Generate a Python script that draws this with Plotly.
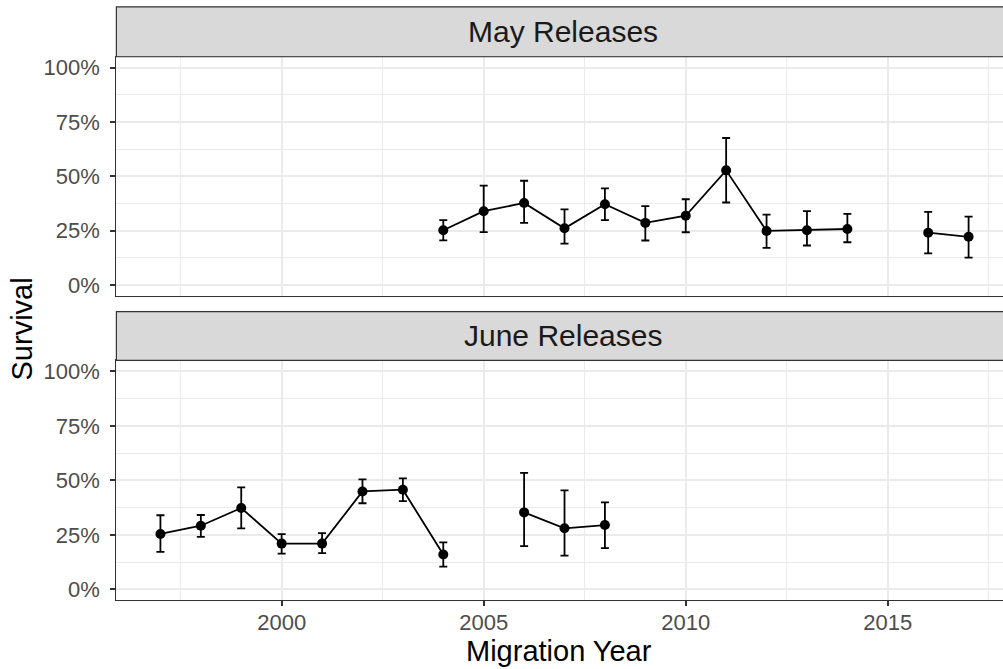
import plotly.graph_objects as go

# ---------------- data ----------------
may_years = [2004, 2005, 2006, 2007, 2008, 2009, 2010, 2011, 2012, 2013, 2014, 2015, 2016, 2017]
may_surv  = [0.251, 0.339, 0.377, 0.260, 0.371, 0.285, 0.318, 0.527, 0.248, 0.251, 0.257, None, 0.240, 0.221]
may_lo    = [0.205, 0.243, 0.285, 0.190, 0.298, 0.204, 0.242, 0.379, 0.170, 0.181, 0.196, None, 0.145, 0.125]
may_hi    = [0.298, 0.457, 0.479, 0.347, 0.444, 0.362, 0.394, 0.676, 0.323, 0.339, 0.327, None, 0.336, 0.314]

june_years = [1997, 1998, 1999, 2000, 2001, 2002, 2003, 2004, 2005, 2006, 2007, 2008]
june_surv  = [0.254, 0.292, 0.373, 0.210, 0.210, 0.449, 0.457, 0.160, None, 0.353, 0.280, 0.295]
june_lo    = [0.172, 0.241, 0.280, 0.164, 0.166, 0.395, 0.405, 0.104, None, 0.198, 0.155, 0.189]
june_hi    = [0.340, 0.341, 0.468, 0.253, 0.258, 0.504, 0.509, 0.216, None, 0.534, 0.454, 0.399]

panel_titles = ["May Releases", "June Releases"]
x_ticks = [2000, 2005, 2010, 2015]
y_ticks = [0, 0.25, 0.5, 0.75, 1.0]
y_ticklabels = ["0%", "25%", "50%", "75%", "100%"]

# ---------------- layout geometry ----------------
# figure slightly wider than the 1003px window so the right panel border is cropped, as in the reference
W, H = 1010, 669
FONT = "Liberation Sans, Arial, sans-serif"
def py(p):  # pixel y -> paper fraction
    return 1 - p / H
def px(p):
    return p / W

x_left = 116.5
top_panel = (56, 296)
bot_panel = (361, 602)
top_strip = (6, 56)
bot_strip = (312, 361)

def err(vals, lo, hi):
    plus = [None if v is None else h - v for v, h in zip(vals, hi)]
    minus = [None if v is None else v - l for v, l in zip(vals, lo)]
    return plus, minus

fig = go.Figure()
for (yrs, s, lo, hi, xa, ya) in [
    (may_years, may_surv, may_lo, may_hi, "x", "y"),
    (june_years, june_surv, june_lo, june_hi, "x2", "y2"),
]:
    plus, minus = err(s, lo, hi)
    fig.add_trace(go.Scatter(
        x=yrs, y=s, mode="lines+markers", xaxis=xa, yaxis=ya,
        line=dict(color="black", width=1.8),
        marker=dict(color="black", size=10),
        error_y=dict(type="data", array=plus, arrayminus=minus, symmetric=False,
                     color="black", thickness=1.8, width=4),
        showlegend=False, connectgaps=False,
    ))

grid = "#EBEBEB"
axcol = "#333333"
common_x = dict(
    range=[1995.91, 2018.0], tickvals=x_ticks, showgrid=True, gridcolor=grid, gridwidth=2,
    minor=dict(tick0=1995, dtick=2.5, showgrid=True, gridcolor=grid, gridwidth=1),
    showline=True, mirror=True, linecolor=axcol, linewidth=1.2, zeroline=False,
    domain=[px(x_left), 1],
)
common_y = dict(
    range=[-0.05, 1.05], tickvals=y_ticks, ticktext=y_ticklabels, showgrid=True,
    gridcolor=grid, gridwidth=2,
    minor=dict(tick0=0, dtick=0.125, showgrid=True, gridcolor=grid, gridwidth=1),
    showline=True, mirror=True, linecolor=axcol, linewidth=1.2, zeroline=False,
    ticks="outside", ticklen=5, tickcolor=axcol, tickwidth=1.5,
    tickfont=dict(family=FONT, size=22, color="#4D4D4D"), ticklabelstandoff=6,
)

fig.update_layout(
    width=W, height=H, autosize=False,
    margin=dict(l=0, r=0, t=0, b=0, pad=0),
    paper_bgcolor="white", plot_bgcolor="white",
    xaxis=dict(common_x, anchor="y", showticklabels=False, ticks=""),
    yaxis=dict(common_y, anchor="x", domain=[py(top_panel[1]), py(top_panel[0])]),
    xaxis2=dict(common_x, anchor="y2", showticklabels=True, ticks="outside", ticklen=5,
                tickcolor=axcol, tickwidth=1.5,
                tickfont=dict(family=FONT, size=22, color="#4D4D4D"), ticklabelstandoff=-3),
    yaxis2=dict(common_y, anchor="x2", domain=[py(bot_panel[1]), py(bot_panel[0])]),
)

# facet strips
shapes = []
annotations = []
for (y0, y1), title in zip([top_strip, bot_strip], panel_titles):
    shapes.append(dict(type="rect", xref="paper", yref="paper",
                       x0=px(x_left), x1=1.0, y0=py(y1), y1=py(y0),
                       fillcolor="#D9D9D9", line=dict(color=axcol, width=1.2), layer="above"))
    annotations.append(dict(text=title, xref="paper", yref="paper",
                            x=px(564), y=py((y0 + y1) / 2),
                            showarrow=False, xanchor="center", yanchor="middle",
                            font=dict(family=FONT, size=30, color="#1A1A1A")))

annotations.append(dict(text="Survival", xref="paper", yref="paper",
                        x=px(22), y=py((top_panel[0] + bot_panel[1]) / 2), textangle=-90,
                        showarrow=False, xanchor="center", yanchor="middle",
                        font=dict(family=FONT, size=29, color="black")))
annotations.append(dict(text="Migration Year", xref="paper", yref="paper",
                        x=px(560), y=py(653),
                        showarrow=False, xanchor="center", yanchor="middle",
                        font=dict(family=FONT, size=29, color="black")))

fig.update_layout(shapes=shapes, annotations=annotations)
fig.write_html("out.html", config={"displayModeBar": False},
               post_script="document.body.style.margin='0';document.body.style.overflow='hidden';")
